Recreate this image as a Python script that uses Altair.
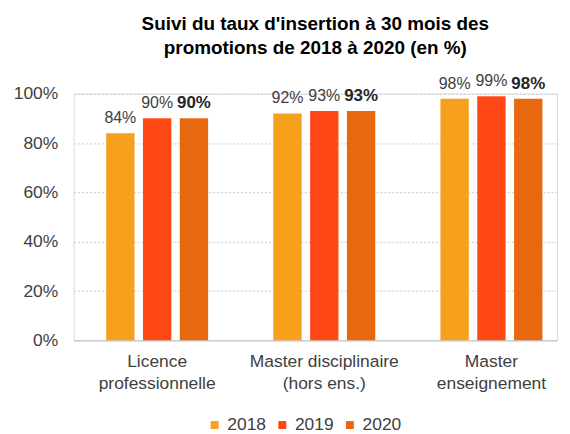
import altair as alt
import pandas as pd

categories = ["Licence|professionnelle", "Master disciplinaire|(hors ens.)", "Master|enseignement"]
years = ["2018", "2019", "2020"]
v2018 = [84, 92, 98]
v2019 = [90, 93, 99]
v2020 = [90, 93, 98]
colors = ["#F7A01E", "#FF4815", "#E8680F"]

rows = []
for i, c in enumerate(categories):
    for y, vals in zip(years, [v2018, v2019, v2020]):
        rows.append({"cat": c, "year": y, "value": vals[i], "label": f"{vals[i]}%"})
df = pd.DataFrame(rows)

FONT = "Liberation Sans"
LBL = "#404040"

x = alt.X("cat:N", sort=categories, title=None,
          scale=alt.Scale(paddingInner=0.39, paddingOuter=0.141, align=0.69),
          axis=alt.Axis(labelExpr="split(datum.label, '|')", labelAngle=0,
                        labelFontSize=17.5, labelColor=LBL, labelFont=FONT,
                        ticks=False, domain=True, domainColor="#c8c8c8",
                        labelPadding=12, labelLineHeight=22))
xo = alt.XOffset("year:N", sort=years, scale=alt.Scale(paddingInner=0.23))
y = alt.Y("value:Q", title=None,
          scale=alt.Scale(domain=[0, 100]),
          axis=alt.Axis(values=[0, 20, 40, 60, 80, 100], labelExpr="datum.value + '%'",
                        labelFontSize=17.5, labelColor=LBL, labelFont=FONT,
                        ticks=False, domain=False, labelPadding=16,
                        gridColor="#cccccc", gridDash=[2, 2], gridWidth=1))

color = alt.Color("year:N", sort=years,
                  scale=alt.Scale(domain=years, range=colors),
                  legend=alt.Legend(title=None, orient="none", direction="horizontal",
                                    legendX=133, legendY=324, padding=0,
                                    symbolType="square", symbolSize=64, symbolStrokeWidth=0,
                                    labelFontSize=17.5, labelColor=LBL, labelFont=FONT,
                                    labelOffset=4, columnPadding=7))

base = alt.Chart(df)
bars = base.mark_bar().encode(x=x, xOffset=xo, y=y, color=color)
text_normal = base.transform_filter(alt.datum.year != "2020").mark_text(
    baseline="alphabetic", dy=-10, fontSize=16, font=FONT, color=LBL
).encode(x=x, xOffset=xo, y=y, text="label:N")
text_bold = base.transform_filter(alt.datum.year == "2020").mark_text(
    baseline="alphabetic", dy=-10, fontSize=17, font=FONT, fontWeight="bold", color="#262626"
).encode(x=x, xOffset=xo, y=y, text="label:N")

chart = (bars + text_normal + text_bold).properties(
    width=486, height=248,
    title=alt.TitleParams(["Suivi du taux d'insertion à 30 mois des",
                           "promotions de 2018 à 2020 (en %)"],
                          fontSize=19, font=FONT, fontWeight="bold", color="#000000",
                          anchor="middle", offset=15, lineHeight=25)
).configure_view(stroke=None).configure(background="white")

chart.save("out.html", embed_options={"renderer": "svg", "actions": False})
